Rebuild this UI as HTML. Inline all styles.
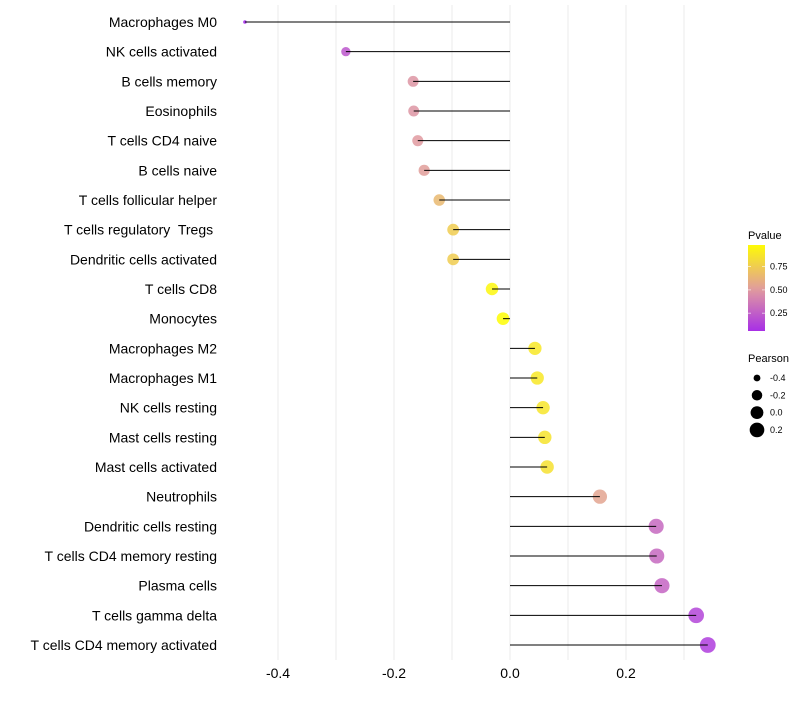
<!DOCTYPE html>
<html><head><meta charset="utf-8"><style>
body{margin:0;background:#fff;font-family:"Liberation Sans",sans-serif}
text{white-space:pre}
</style></head><body>
<svg id="chart" width="800" height="700" xmlns="http://www.w3.org/2000/svg">
<g id="grid"></g><g id="dots"></g><g id="marks"></g><g id="labels"></g><g id="legend"></g>
</svg>
<script>
const categories=["Macrophages M0","NK cells activated","B cells memory","Eosinophils","T cells CD4 naive","B cells naive","T cells follicular helper","T cells regulatory  Tregs ","Dendritic cells activated","T cells CD8","Monocytes","Macrophages M2","Macrophages M1","NK cells resting","Mast cells resting","Mast cells activated","Neutrophils","Dendritic cells resting","T cells CD4 memory resting","Plasma cells","T cells gamma delta","T cells CD4 memory activated"];
const pearson=[-0.457,-0.283,-0.167,-0.166,-0.159,-0.148,-0.122,-0.098,-0.098,-0.031,-0.012,0.043,0.047,0.057,0.060,0.064,0.155,0.252,0.253,0.262,0.321,0.341];
const pvalues=[0.02,0.22,0.48,0.48,0.5,0.52,0.65,0.75,0.75,0.96,0.99,0.88,0.88,0.87,0.86,0.85,0.55,0.3,0.3,0.28,0.15,0.12];
const xTicks=[-0.4,-0.2,0.0,0.2];
const xTickLabels=["-0.4","-0.2","0.0","0.2"];
const legendP=[0.25,0.5,0.75];
const legendSizes=[-0.4,-0.2,0.0,0.2];

const NS="http://www.w3.org/2000/svg";
const x=v=>510+v*580;
const y=i=>22+i*29.667;
const r=v=>1.8+6.1*Math.sqrt(Math.max(0,(v+0.457)/0.8));
function col(p){
  const stops=[[0,[160,32,240]],[0.5,[224,154,160]],[1,[255,255,0]]];
  let a=stops[0],b=stops[1];if(p>0.5){a=stops[1];b=stops[2];}
  const t=Math.min(1,Math.max(0,(p-a[0])/(b[0]-a[0])));
  const c=a[1].map((v,k)=>Math.round(v+(b[1][k]-v)*t));
  return `rgb(${c[0]},${c[1]},${c[2]})`;
}
function mk(tag,attrs,parent,text){const e=document.createElementNS(NS,tag);for(const k in attrs)e.setAttribute(k,attrs[k]);if(text!==undefined)e.textContent=text;document.getElementById(parent).appendChild(e);return e;}
for(let v=-0.4;v<=0.31;v+=0.1){
  const g=mk('line',{x1:x(v),x2:x(v),y1:5,y2:660,stroke:'#ebebeb','stroke-width':1},'grid');
  
  
}
xTicks.forEach((v,i)=>{
  const t=mk('text',{x:x(v),y:678,'font-size':14,'text-anchor':'middle',fill:'#000'},'labels',xTickLabels[i]);
  
  
});
categories.forEach((c,i)=>{
  const t=mk('text',{x:217,y:y(i)+5,'font-size':14,'text-anchor':'end',fill:'#000'},'labels',c);
  
  
  const d=mk('circle',{cx:x(pearson[i]),cy:y(i),r:r(pearson[i]),fill:col(pvalues[i]),'fill-opacity':0.85},'dots');
  
  
  const l=mk('line',{x1:x(0),x2:x(pearson[i]),y1:y(i),y2:y(i),stroke:'#000','stroke-width':1},'marks');
  
  
});
// legend
mk('text',{x:748,y:239,'font-size':11},'legend','Pvalue');
const defs=mk('defs',{},'legend');
const lg=document.createElementNS(NS,'linearGradient');lg.setAttribute('id','pg');lg.setAttribute('x1',0);lg.setAttribute('y1',1);lg.setAttribute('x2',0);lg.setAttribute('y2',0);defs.appendChild(lg);
for(let k=0;k<=10;k++){const s=document.createElementNS(NS,'stop');const p=0.06+k*0.092;s.setAttribute('offset',k/10);s.setAttribute('stop-color',col(p));lg.appendChild(s);}
const bar=mk('rect',{x:748,y:245,width:17,height:86,fill:'url(#pg)'},'legend');


const py=p=>331-(p-0.06)*(86/0.92);
legendP.forEach(p=>{
  mk('line',{x1:748,x2:751,y1:py(p),y2:py(p),stroke:'#fff','stroke-opacity':0.6},'legend');
  mk('line',{x1:762,x2:765,y1:py(p),y2:py(p),stroke:'#fff','stroke-opacity':0.6},'legend');
  const t=mk('text',{x:770,y:py(p)+3,'font-size':9},'legend',p.toFixed(2));
  
  
});
mk('text',{x:748,y:362,'font-size':11},'legend','Pearson');
legendSizes.forEach((v,i)=>{
  const cy=378+i*17.3;
  const c=mk('circle',{cx:757,cy:cy,r:r(v),fill:'#000'},'legend');
  
  
  mk('text',{x:770,y:cy+3,'font-size':9},'legend',v.toFixed(1));
});
</script>
</body></html>
